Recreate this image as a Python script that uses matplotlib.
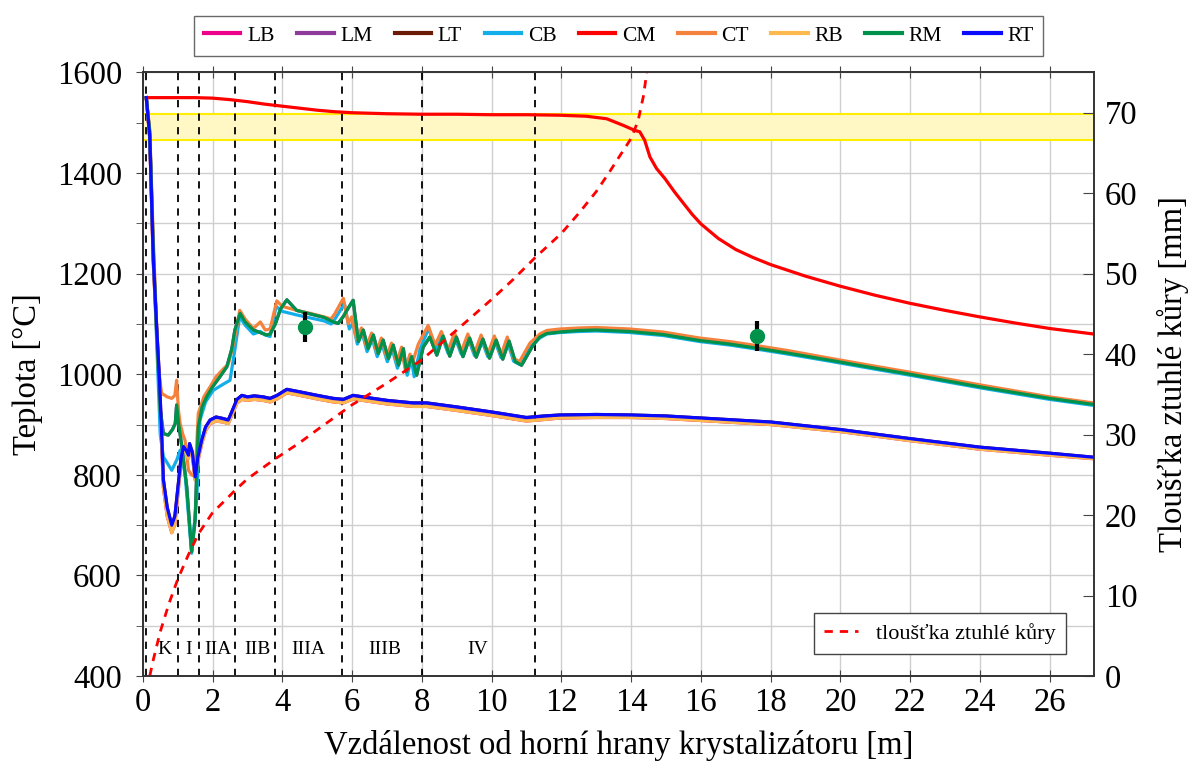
import matplotlib
matplotlib.use("Agg")
import matplotlib.pyplot as plt
from matplotlib.ticker import MultipleLocator

plt.rcParams["font.family"] = ["Liberation Serif", "DejaVu Serif"]

# --- data ------------------------------------------------------------------
# centre (CM)
cm_x = [0.1, 1.0, 1.5, 2.0, 2.5, 3.0, 3.5, 4.0, 4.5, 5.0, 5.5, 6.0, 7.0, 8.0,
        9.0, 10.0, 11.0, 11.96, 12.72, 13.3, 13.77, 14.1, 14.25, 14.39, 14.54,
        14.73, 14.97, 15.25, 15.5, 15.75, 16.0, 16.5, 17.0, 17.5, 18.0, 19.0,
        20.0, 21.0, 22.0, 23.0, 24.0, 25.0, 26.0, 27.26]
cm_t = [1550, 1550, 1550, 1549, 1546, 1542, 1537, 1533, 1529, 1525, 1522, 1520,
        1518, 1517, 1517, 1516, 1516, 1515, 1513, 1508, 1495, 1485, 1482, 1465,
        1432, 1409, 1389, 1362, 1340, 1318, 1299, 1270, 1248, 1232, 1218, 1195,
        1175, 1157, 1141, 1127, 1114, 1102, 1091, 1080]

# corner, right top (RT)
rt_x = [0.1, 0.2, 0.3, 0.4, 0.48, 0.59, 0.7, 0.83, 0.92, 1.0, 1.1, 1.17, 1.25,
        1.31, 1.34, 1.42, 1.5, 1.58, 1.69, 1.8, 1.93, 2.1, 2.3, 2.45, 2.55, 2.7,
        2.84, 3.0, 3.2, 3.45, 3.65, 3.85, 4.13, 4.5, 5.0, 5.46, 5.75, 6.03, 6.5,
        7.0, 7.75, 8.14, 9.0, 10.0, 11.0, 11.5, 11.96, 13.0, 14.0, 15.0, 16.0,
        18.0, 20.0, 22.0, 24.0, 26.0, 27.26]
rt_t = [1550, 1472, 1230, 1090, 988, 790, 735, 700, 718, 770, 835, 856, 848,
        839, 862, 845, 796, 835, 869, 895, 909, 915, 912, 909, 925, 950, 958,
        955, 957, 955, 952, 958, 970, 965, 958, 952, 950, 958, 953, 948, 943,
        943, 935, 925, 914, 917, 919, 920, 919, 917, 913, 905, 890, 872, 855,
        843, 835]

# corner, right bottom (RB)
rb_x = [0.1, 0.2, 0.3, 0.4, 0.48, 0.59, 0.7, 0.83, 0.92, 1.0, 1.1, 1.17, 1.25,
        1.31, 1.34, 1.42, 1.5, 1.58, 1.69, 1.8, 1.93, 2.1, 2.3, 2.45, 2.55, 2.7,
        2.84, 3.0, 3.2, 3.45, 3.65, 3.85, 4.13, 4.5, 5.0, 5.46, 5.75, 6.03, 6.5,
        7.0, 7.75, 8.14, 9.0, 10.0, 11.0, 11.5, 11.96, 13.0, 14.0, 15.0, 16.0,
        18.0, 20.0, 22.0, 24.0, 26.0, 27.26]
rb_t = [1550, 1468, 1222, 1080, 975, 775, 718, 685, 702, 758, 828, 850, 842,
        833, 855, 838, 790, 828, 862, 888, 902, 907, 905, 902, 918, 943, 950,
        948, 950, 948, 945, 951, 963, 958, 951, 945, 943, 951, 946, 941, 936,
        936, 928, 918, 907, 910, 913, 914, 914, 912, 908, 900, 886, 868, 851,
        839, 832]

# mid face, right middle (RM)
rm_x = [0.1, 0.2, 0.3, 0.4, 0.5, 0.59, 0.73, 0.85, 0.93, 0.97, 1.03, 1.12, 1.26,
        1.4, 1.5, 1.59, 1.7, 1.83, 2.0, 2.21, 2.41, 2.55, 2.64, 2.79, 2.93, 3.17,
        3.4, 3.55, 3.65, 3.8, 3.95, 4.13, 4.41, 4.8, 5.2, 5.46, 5.6, 5.75, 5.85,
        6.03, 6.18, 6.32, 6.46, 6.61, 6.75, 6.89, 7.04, 7.18, 7.33, 7.47, 7.56,
        7.71, 7.85, 8.04, 8.23, 8.43, 8.61, 8.8, 8.99, 9.18, 9.37, 9.56, 9.75,
        9.94, 10.13, 10.32, 10.5, 10.68, 10.86, 11.19, 11.38, 11.58, 11.96, 12.5,
        13.0, 13.96, 14.92, 15.97, 16.83, 17.6, 18.5, 19.69, 21.0, 22.0, 24.0,
        26.0, 27.26]
rm_t = [1550, 1480, 1250, 1080, 930, 882, 879, 890, 902, 939, 900, 856, 776,
        647, 710, 895, 935, 955, 975, 995, 1015, 1050, 1088, 1121, 1104, 1088,
        1082, 1078, 1080, 1100, 1130, 1148, 1127, 1120, 1113, 1104, 1101, 1115,
        1127, 1147, 1065, 1088, 1051, 1078, 1041, 1068, 1031, 1058, 1018, 1051,
        1005, 1035, 998, 1054, 1074, 1038, 1076, 1036, 1074, 1035, 1072, 1034,
        1070, 1032, 1068, 1030, 1066, 1025, 1018, 1058, 1074, 1081, 1084, 1087,
        1088, 1085, 1079, 1067, 1060, 1052, 1042, 1028, 1012, 1000, 975, 952,
        940]

# mid face, centre top (CT)
ct_x = [0.1, 0.2, 0.3, 0.4, 0.45, 0.54, 0.7, 0.83, 0.92, 0.97, 1.02, 1.07, 1.15,
        1.21, 1.31, 1.4, 1.5, 1.59, 1.75, 1.93, 2.1, 2.3, 2.45, 2.6, 2.78, 2.93,
        3.17, 3.37, 3.51, 3.65, 3.84, 4.0, 4.41, 4.8, 5.2, 5.4, 5.51, 5.75, 5.89,
        5.99, 6.13, 6.27, 6.41, 6.56, 6.7, 6.84, 6.99, 7.13, 7.28, 7.42, 7.52,
        7.66, 7.72, 7.9, 8.18, 8.38, 8.56, 8.75, 8.94, 9.13, 9.32, 9.51, 9.7,
        9.89, 10.08, 10.27, 10.45, 10.63, 10.8, 11.1, 11.38, 11.58, 11.96, 12.5,
        13.0, 13.96, 14.92, 15.97, 16.83, 17.6, 18.5, 19.69, 21.0, 22.0, 24.0,
        26.0, 27.26]
ct_t = [1550, 1485, 1270, 1090, 1010, 962, 955, 952, 958, 988, 930, 902, 880,
        869, 809, 800, 796, 922, 955, 975, 995, 1010, 1020, 1060, 1127, 1110,
        1091, 1104, 1088, 1090, 1146, 1135, 1127, 1121, 1114, 1110, 1121, 1151,
        1101, 1114, 1070, 1092, 1055, 1082, 1045, 1072, 1035, 1062, 1024, 1054,
        1010, 1040, 1021, 1060, 1097, 1058, 1085, 1048, 1082, 1045, 1080, 1042,
        1078, 1040, 1076, 1038, 1074, 1032, 1025, 1062, 1080, 1087, 1090, 1092,
        1093, 1090, 1084, 1072, 1065, 1057, 1047, 1032, 1016, 1004, 979, 955,
        943]

# mid face, centre bottom (CB)
cb_x = [0.1, 0.2, 0.3, 0.4, 0.5, 0.59, 0.83, 0.97, 1.07, 1.21, 1.4, 1.55, 1.64,
        1.8, 2.02, 2.3, 2.5, 2.62, 2.78, 2.93, 3.17, 3.37, 3.51, 3.65, 3.82,
        4.0, 4.41, 4.8, 5.2, 5.4, 5.51, 5.78, 5.92, 6.02, 6.15, 6.29, 6.43,
        6.58, 6.72, 6.86, 7.01, 7.15, 7.3, 7.44, 7.58, 7.7, 7.78, 7.95, 8.2,
        8.38, 8.56, 8.75, 8.94, 9.13, 9.32, 9.51, 9.7, 9.89, 10.08, 10.27, 10.45,
        10.63, 10.82, 11.12, 11.38, 11.58, 11.96, 12.5, 13.0, 13.96, 14.92,
        15.97, 16.83, 17.6, 18.5, 19.69, 21.0, 22.0, 24.0, 26.0, 27.26]
cb_t = [1550, 1475, 1240, 1060, 880, 836, 809, 829, 849, 803, 644, 756, 909,
        945, 968, 980, 988, 1040, 1115, 1098, 1080, 1085, 1078, 1075, 1135,
        1125, 1118, 1112, 1106, 1100, 1110, 1140, 1090, 1102, 1060, 1082, 1045,
        1070, 1035, 1060, 1025, 1050, 1012, 1042, 998, 1030, 995, 1050, 1092,
        1050, 1078, 1042, 1075, 1040, 1073, 1037, 1071, 1035, 1069, 1033, 1066,
        1026, 1019, 1055, 1072, 1080, 1083, 1085, 1086, 1083, 1077, 1065, 1058,
        1050, 1040, 1026, 1010, 998, 973, 950, 938]

# left side is symmetric with the right one and hidden underneath
lb_x, lb_t = rb_x, rb_t
lm_x, lm_t = rm_x, rm_t
lt_x, lt_t = rt_x, rt_t

# shell thickness [mm]
sh_x = [0.2, 0.3, 0.5, 0.75, 1.0, 1.3, 1.6, 2.0, 2.4, 2.65, 3.0, 3.8, 4.5, 5.0,
        6.0, 7.0, 8.0, 9.0, 10.0, 10.6, 11.25, 12.0, 12.5, 13.0, 13.36, 13.7,
        14.0, 14.2, 14.35, 14.45]
sh_mm = [0, 2, 5.5, 9, 12, 15, 17.7, 20.3, 22, 23.1, 24.5, 27, 29, 30.6, 33.7,
         36.4, 39.3, 43, 46.8, 49.2, 52, 55, 57.5, 60.2, 62.5, 64.8, 66.8, 69,
         72, 75]

# measured points with error bars
meas_x = [4.65, 17.6]
meas_t = [1094, 1076]
meas_err = [30, 29]

zone_bounds = [0.1, 1.0, 1.6, 2.65, 3.8, 5.7, 8.0, 11.25]
zone_names = ["K", "I", "IIA", "IIB", "IIIA", "IIIB", "IV"]
zone_label_x = [0.62, 1.3, 2.15, 3.3, 4.75, 6.95, 9.6]

solidus, liquidus = 1465, 1517

series = [
    ("LB", lb_x, lb_t, "#ec008c"),
    ("LM", lm_x, lm_t, "#8e3b9b"),
    ("LT", lt_x, lt_t, "#6b1a08"),
    ("CB", cb_x, cb_t, "#12aeea"),
    ("CM", cm_x, cm_t, "#ff0000"),
    ("CT", ct_x, ct_t, "#f5823c"),
    ("RB", rb_x, rb_t, "#fdb94e"),
    ("RM", rm_x, rm_t, "#00924a"),
    ("RT", rt_x, rt_t, "#0a0aff"),
]

FS = 23.5

fig = plt.figure(figsize=(11.9, 7.63), dpi=100)
ax = fig.add_axes([0.12, 0.114, 0.799, 0.791])
ax2 = ax.twinx()

ax.axhspan(solidus, liquidus, facecolor="#fff8c4", edgecolor="#ffee00",
           lw=1.5, zorder=1)
for xb in zone_bounds:
    ax.axvline(xb, color="black", ls=(0, (4, 3.5)), lw=1.3, zorder=2)
for name, zx in zip(zone_names, zone_label_x):
    ax.text(zx, 452, name, ha="center", va="center", fontsize=14, zorder=3)

handles = []
for name, xs, ts, col in series:
    h, = ax.plot(xs, ts, color=col, lw=2.3, label=name, zorder=4,
                 solid_joinstyle="round")
    handles.append(h)

ax.errorbar(meas_x, meas_t, yerr=meas_err, fmt="o", color="#00924a",
            ms=10, ecolor="black", elinewidth=3, capsize=0, zorder=6)

ax2.plot(sh_x, sh_mm, color="#ff0000", ls=(0, (3, 2.5)), lw=2,
         label="tloušťka ztuhlé kůry")

ax.set_xlim(0, 27.26)
ax.set_ylim(400, 1600)
ax2.set_ylim(0, 75)
ax.xaxis.set_major_locator(MultipleLocator(2))
ax.yaxis.set_major_locator(MultipleLocator(200))
ax.yaxis.set_minor_locator(MultipleLocator(100))
ax2.yaxis.set_major_locator(MultipleLocator(10))
ax.grid(True, which="both", color="#cfcfcf", lw=1)
ax.set_axisbelow(True)

ax.tick_params(axis="x", direction="inout", length=8, top=True,
               labelsize=FS, color="#444444", pad=4)
ax.tick_params(axis="y", which="both", direction="out", length=5,
               labelsize=FS, color="#444444", pad=10)
ax2.tick_params(axis="y", direction="in", length=8, labelsize=FS,
                color="#444444", pad=8)
for a in (ax, ax2):
    for sp in a.spines.values():
        sp.set_color("#333333")
        sp.set_linewidth(1.2)

ax.set_xlabel("Vzdálenost od horní hrany krystalizátoru [m]", fontsize=FS,
              labelpad=9)
ax.set_ylabel("Teplota [°C]", fontsize=FS, labelpad=10)
ax2.set_ylabel("Tloušťka ztuhlé kůry [mm]", fontsize=FS, labelpad=14)

leg = fig.legend(handles=handles, loc="center", bbox_to_anchor=(0.52, 0.953),
                 ncol=9, fontsize=15.5, frameon=True, fancybox=False,
                 edgecolor="#444444", handlelength=1.7, columnspacing=1.05,
                 handletextpad=0.3, borderpad=0.45)
for ln in leg.get_lines():
    ln.set_linewidth(3.0)
leg2 = ax2.legend(loc="lower right", bbox_to_anchor=(0.9706, 0.0364),
                  borderaxespad=0, fontsize=16, fancybox=False,
                  edgecolor="#444444", handlelength=1.55, framealpha=1,
                  borderpad=0.45)
leg2.get_frame().set_linewidth(1.0)

fig.savefig("out.png", dpi=100)
